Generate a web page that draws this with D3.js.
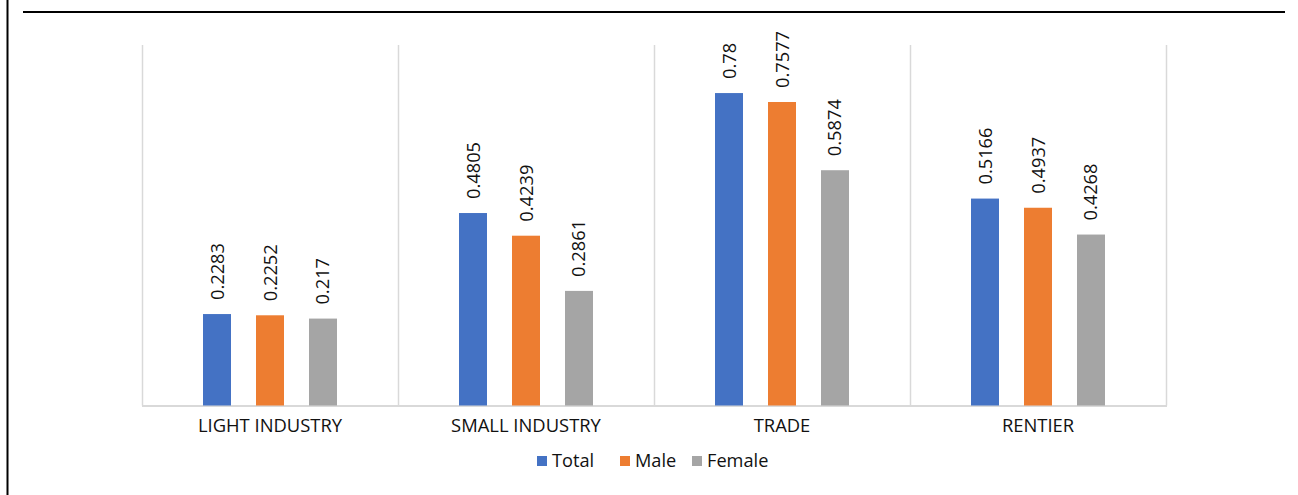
<!DOCTYPE html>
<html>
<head>
<meta charset="utf-8">
<script src="https://cdn.jsdelivr.net/npm/d3@7"></script>
<style>
  html, body { margin: 0; padding: 0; background: #fff; }
  svg { display: block; }
  text { font-family: "Open Sans", "Noto Sans", sans-serif; fill: #111; }
</style>
</head>
<body>
<svg id="chart" width="1298" height="495"></svg>
<script>
const categories = ["LIGHT INDUSTRY", "SMALL INDUSTRY", "TRADE", "RENTIER"];
const seriesNames = ["Total", "Male", "Female"];
const totalValues = [0.2283, 0.4805, 0.78, 0.5166];
const maleValues = [0.2252, 0.4239, 0.7577, 0.4937];
const femaleValues = [0.217, 0.2861, 0.5874, 0.4268];
const labelTexts = [
  ["0.2283", "0.2252", "0.217"],
  ["0.4805", "0.4239", "0.2861"],
  ["0.78", "0.7577", "0.5874"],
  ["0.5166", "0.4937", "0.4268"]
];
const colors = ["#4472C4", "#ED7D31", "#A5A5A5"];
const seriesValues = [totalValues, maleValues, femaleValues];

const svg = d3.select("#chart");

// frame lines
svg.append("line").attr("x1", 7.5).attr("x2", 7.5).attr("y1", 0).attr("y2", 495)
  .attr("stroke", "#000").attr("stroke-width", 2);
svg.append("line").attr("x1", 23).attr("x2", 1285).attr("y1", 12).attr("y2", 12)
  .attr("stroke", "#000").attr("stroke-width", 2);

const plotLeft = 142, plotRight = 1166, plotTop = 45, plotBottom = 405.5;

const x0 = d3.scaleBand().domain(categories).range([plotLeft, plotRight]).padding(0);
const x1 = d3.scaleBand().domain(seriesNames).range([0, x0.bandwidth()])
  .paddingInner(0.4717).paddingOuter(1.151);
const y = d3.scaleLinear().domain([0, 0.9]).range([plotBottom, plotTop]);

// vertical gridlines at category boundaries
const bounds = categories.map(c => x0(c)).concat([plotRight]);
svg.append("g").selectAll("line").data(bounds).join("line")
  .attr("x1", d => Math.round(d) + 0.5).attr("x2", d => Math.round(d) + 0.5)
  .attr("y1", plotTop).attr("y2", plotBottom)
  .attr("stroke", "#D9D9D9").attr("stroke-width", 1.5);

// bottom axis line
svg.append("line").attr("x1", plotLeft).attr("x2", plotRight + 1)
  .attr("y1", plotBottom + 0.5).attr("y2", plotBottom + 0.5)
  .attr("stroke", "#D9D9D9").attr("stroke-width", 2);

// bars
const groups = svg.append("g").selectAll("g").data(categories).join("g")
  .attr("transform", c => `translate(${x0(c)},0)`);

groups.each(function(c, ci) {
  const g = d3.select(this);
  seriesNames.forEach((s, si) => {
    const v = seriesValues[si][ci];
    g.append("rect")
      .attr("x", x1(s)).attr("width", x1.bandwidth())
      .attr("y", y(v)).attr("height", y(0) - y(v))
      .attr("fill", colors[si]);
    const cx = x1(s) + x1.bandwidth() / 2;
    const ty = y(v) - 14;
    g.append("text")
      .attr("transform", `translate(${cx + 6.5},${ty}) rotate(-90)`)
      .attr("text-anchor", "start")
      .attr("font-size", 18.3)
      .text(labelTexts[ci][si]);
  });
});

// category axis
const xAxis = d3.axisBottom(x0).tickSize(0).tickPadding(0);
const ax = svg.append("g").attr("transform", `translate(0,${plotBottom})`).call(xAxis);
ax.select(".domain").remove();
ax.selectAll("text")
  .attr("dy", null).attr("y", 26.5)
  .attr("font-size", 18.4)
  .style("font-family", '"Open Sans", "Noto Sans", sans-serif')
  .attr("fill", "#111");

// legend
const legendX = [537, 620, 692];
const legend = svg.append("g");
seriesNames.forEach((s, i) => {
  legend.append("rect").attr("x", legendX[i]).attr("y", 456)
    .attr("width", 10).attr("height", 10).attr("fill", colors[i]);
  legend.append("text").attr("x", legendX[i] + 15).attr("y", 467)
    .attr("font-size", 18.2).text(s);
});
</script>
</body>
</html>
